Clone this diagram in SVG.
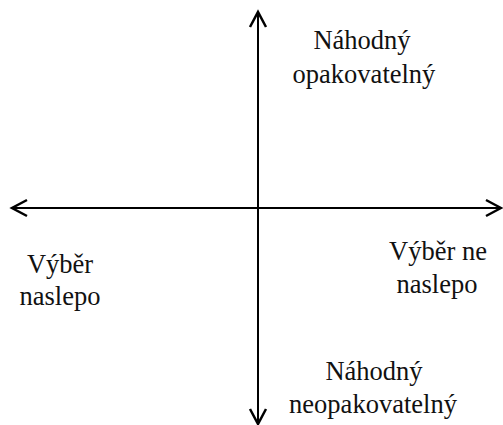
<svg xmlns="http://www.w3.org/2000/svg" width="503" height="425" viewBox="0 0 503 425">
<style>
.ax{stroke:#000;stroke-width:2;fill:none}
.hd{stroke:#000;stroke-width:2.5;fill:none;stroke-linejoin:miter;stroke-linecap:butt}
.t{font-size:26.5px;fill:#111;text-anchor:middle}
</style>
<rect width="503" height="425" fill="#fff"/>
<g id="connectors">
<line class="ax" x1="12" y1="208" x2="501" y2="208"/>
<line class="ax" x1="258" y1="13" x2="258" y2="423"/>
<path class="hd" d="M27,200 L12,208 L27,216"/>
<path class="hd" d="M486,200 L501,208 L486,216"/>
<path class="hd" d="M250,27 L258,12 L266,27"/>
<path class="hd" d="M250,409 L258,424 L266,409"/>
</g>
<g font-family="Liberation Serif, serif">
<g id="top"><text class="t" x="362" y="49">Náhodný</text><text class="t" x="364" y="83">opakovatelný</text></g>
<g id="left"><text class="t" x="60" y="273">Výběr</text><text class="t" x="60" y="305">naslepo</text></g>
<g id="right"><text class="t" x="438" y="260">Výběr ne</text><text class="t" x="437" y="293">naslepo</text></g>
<g id="bottom"><text class="t" x="374" y="380">Náhodný</text><text class="t" x="373" y="413">neopakovatelný</text></g>
</g>
</svg>
